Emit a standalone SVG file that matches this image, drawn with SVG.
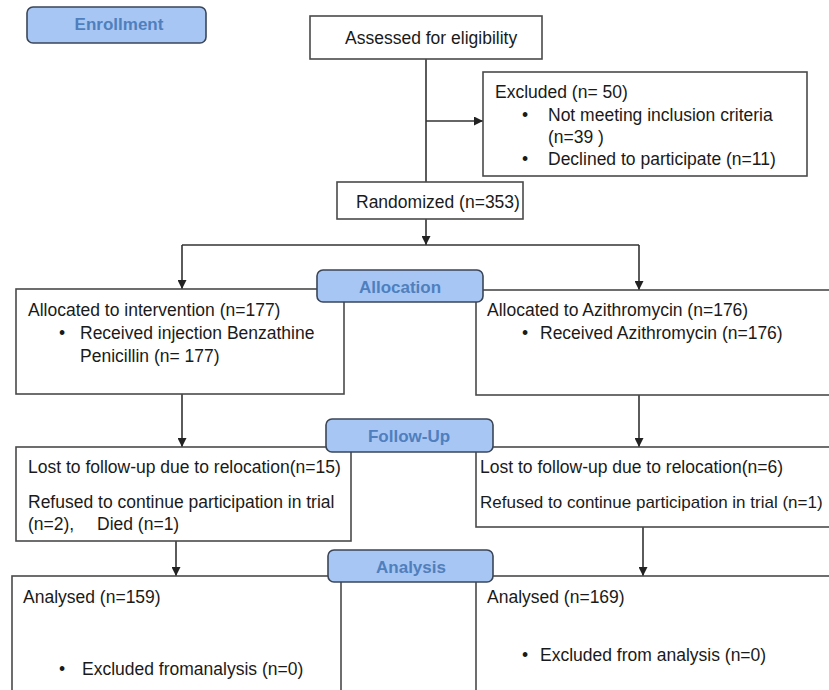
<svg xmlns="http://www.w3.org/2000/svg" width="829" height="690" viewBox="0 0 829 690">
<defs>
<style>
.box{fill:#fff;stroke:#4a4a4a;stroke-width:1.6}
.lbl{fill:#a8c6f4;stroke:#3a4658;stroke-width:1.6}
.lt{font-family:"Liberation Sans",Arial,sans-serif;font-weight:bold;font-size:17px;fill:#4f7fbd;text-anchor:middle}
.t{font-family:"Liberation Sans",Arial,sans-serif;font-size:17.5px;fill:#1a1a1a}
.c{fill:none;stroke:#333;stroke-width:1.6}
</style>
<marker id="ah" viewBox="0 0 10 10" refX="10" refY="5" markerWidth="9" markerHeight="9" markerUnits="userSpaceOnUse" orient="auto">
<path d="M0,0 L10,5 L0,10 z" fill="#222"/>
</marker>
</defs>
<rect width="829" height="690" fill="#fff"/>
<g id="connectors">
<path class="c" d="M426,59 V182"/>
<path class="c" d="M426,121 H483" marker-end="url(#ah)"/>
<path class="c" d="M426,219 V245" marker-end="url(#ah)"/>
<path class="c" d="M182,245 H639"/>
<path class="c" d="M182,245 V289" marker-end="url(#ah)"/>
<path class="c" d="M639,245 V290" marker-end="url(#ah)"/>
<path class="c" d="M182,394 V447" marker-end="url(#ah)"/>
<path class="c" d="M639,395 V447" marker-end="url(#ah)"/>
<path class="c" d="M176,541 V576" marker-end="url(#ah)"/>
<path class="c" d="M643,527 V576" marker-end="url(#ah)"/>
</g>
<g id="enrollment">
<rect class="lbl" x="27" y="7" width="179" height="36" rx="6"/>
<text class="lt" x="119" y="30">Enrollment</text>
</g>
<g id="assessed">
<rect class="box" x="310" y="16" width="232" height="43"/>
<text class="t" x="345" y="44">Assessed for eligibility</text>
</g>
<g id="excluded">
<rect class="box" x="483" y="72" width="324" height="104"/>
<text class="t" x="495" y="98">Excluded (n= 50)</text>
<text class="t" x="522" y="121">•</text>
<text class="t" x="548" y="121">Not meeting inclusion criteria</text>
<text class="t" x="548" y="143">(n=39 )</text>
<text class="t" x="522" y="165">•</text>
<text class="t" x="548" y="165">Declined to participate (n=11)</text>
</g>
<g id="randomized">
<rect class="box" x="337" y="182" width="186" height="37"/>
<text class="t" x="356" y="208">Randomized (n=353)</text>
</g>
<g id="alloc-left">
<rect class="box" x="16" y="289" width="328" height="105"/>
<text class="t" x="28" y="316">Allocated to intervention (n=177)</text>
<text class="t" x="59" y="339">•</text>
<text class="t" x="80" y="339">Received injection Benzathine</text>
<text class="t" x="80" y="362">Penicillin (n= 177)</text>
</g>
<g id="alloc-right">
<rect class="box" x="476" y="290" width="360" height="105"/>
<text class="t" x="487" y="316">Allocated to Azithromycin (n=176)</text>
<text class="t" x="522" y="339">•</text>
<text class="t" x="540" y="339">Received Azithromycin (n=176)</text>
</g>
<g id="allocation">
<rect class="lbl" x="317" y="270" width="166" height="32" rx="6"/>
<text class="lt" x="400" y="293">Allocation</text>
</g>
<g id="follow-left">
<rect class="box" x="16" y="447" width="335" height="94"/>
<text class="t" x="28" y="473">Lost to follow-up due to relocation(n=15)</text>
<text class="t" x="28" y="508">Refused to continue participation in trial</text>
<text class="t" x="28" y="530">(n=2),</text>
<text class="t" x="97" y="530">Died (n=1)</text>
</g>
<g id="follow-right">
<rect class="box" x="476" y="447" width="360" height="80"/>
<text class="t" x="480" y="473">Lost to follow-up due to relocation(n=6)</text>
<text class="t" x="480" y="508" style="font-size:17px">Refused to continue participation in trial (n=1)</text>
</g>
<g id="followup">
<rect class="lbl" x="326" y="419" width="167" height="33" rx="6"/>
<text class="lt" x="409" y="442">Follow-Up</text>
</g>
<g id="analysis-left">
<rect class="box" x="12" y="576" width="329" height="130"/>
<text class="t" x="23" y="603">Analysed (n=159)</text>
<text class="t" x="59" y="675">•</text>
<text class="t" x="82" y="675">Excluded fromanalysis (n=0)</text>
</g>
<g id="analysis-right">
<rect class="box" x="476" y="576" width="360" height="130"/>
<text class="t" x="487" y="603">Analysed (n=169)</text>
<text class="t" x="522" y="661">•</text>
<text class="t" x="540" y="661">Excluded from analysis (n=0)</text>
</g>
<g id="analysis">
<rect class="lbl" x="328" y="550" width="165" height="32" rx="6"/>
<text class="lt" x="411" y="573">Analysis</text>
</g>
</svg>
